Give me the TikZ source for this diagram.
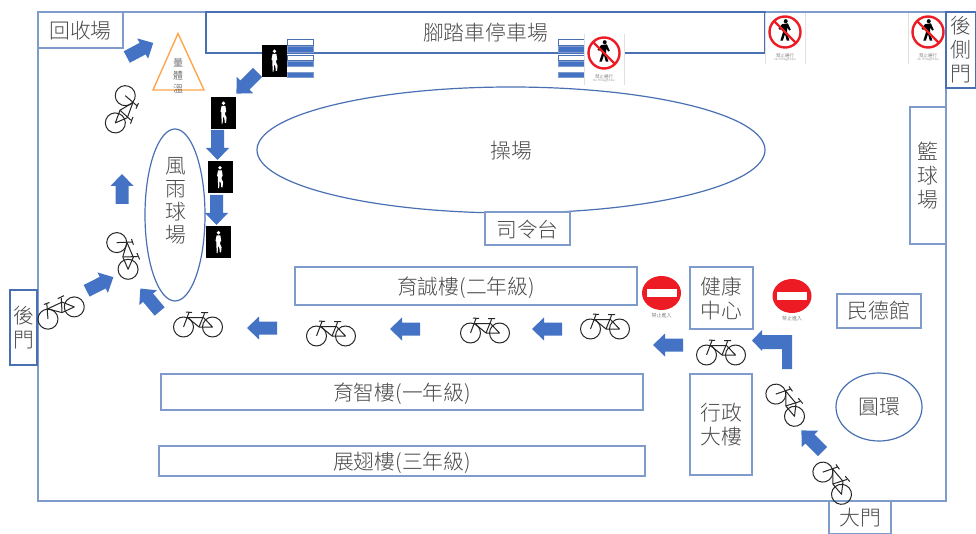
\documentclass[tikz,border=0pt]{standalone}
\usepackage{fontspec}
\setmainfont{Noto Sans CJK TC Light}[BoldFont={Noto Sans CJK TC}]
\usetikzlibrary{shapes.geometric}
\definecolor{frameblue}{HTML}{7E9BCB}
\definecolor{darkblue}{HTML}{4A70B4}
\definecolor{arrowblue}{HTML}{4472C4}
\definecolor{labelgray}{HTML}{4A4A4A}
\definecolor{signred}{HTML}{ED1C24}
\newcommand{\lowertext}[2]{\raisebox{-#1}[\height][\depth]{#2}}
\tikzset{
  box/.style={draw=frameblue,line width=1.5pt,fill=white,inner sep=0pt,text=labelgray,font=\fontsize{20.8}{24}\selectfont,align=center},
  oval/.style={ellipse,draw=darkblue,line width=1.2pt,fill=white,inner sep=0pt,text=labelgray,font=\fontsize{20.8}{24}\selectfont,align=center},
  lbl/.style={text=labelgray,inner sep=0pt,font=\fontsize{20.8}{24}\selectfont,align=center},
  stripeopen/.style={draw=darkblue,line width=1pt,fill=white},
  stripefull/.style={draw=frameblue,line width=.6pt,fill=arrowblue},
  pics/barrow/.style={code={
    \fill[arrowblue] (-15,-6.5) -- (3,-6.5) -- (3,-11.5) -- (15,0) -- (3,11.5) -- (3,6.5) -- (-15,6.5) -- cycle;
  }},
  pics/bike/.style={code={
    \begin{scope}[draw=black!85,line width=1pt,line join=round]
      \draw (-14.5,5) circle (10);
      \draw (14.5,5) circle (10);
      \draw (-14.5,5) -- (-9,-9.5) (-12,-10) -- (-6,-9.5);
      \draw (-10.5,-4.5) -- (5.5,-4.5) -- (14.5,5) -- (1,5) -- cycle;
      \draw (1,5) -- (6.5,-8.5) (3,-9.5) -- (10,-9.5);
    \end{scope}
  }},
  pics/walker/.style={code={
    \fill[black] (-12.5,-16) rectangle (12.5,16);
    \begin{scope}[scale=.85,shift={(0,-.5)}]
    \fill[white] (0,-11) circle (2.1);
    \fill[white] (-2.2,-8) -- (2.2,-8) -- (3.2,-1) -- (2.2,-.8) -- (1.8,2) -- (3.6,6) -- (3,12) -- (1.5,12) -- (1,7) -- (-.5,4) -- (-1,13) -- (-2.3,13) -- (-2.4,2) -- (-2.7,-1) -- (-3.6,-1) -- cycle;
    \end{scope}
  }},
  pics/noped/.style={code={
    \fill[white] (-20,-25.5) rectangle (20,25);
    \draw[black!12,line width=.5pt] (-20,-25.5) -- (-20,25) (20,-25.5) -- (20,25);
    \begin{scope}[shift={(0,-7)},scale=.72]
    \fill[black] (1,-15) circle (2.8);
    \fill[black] (-4,-11) -- (4,-12) -- (8,-3) -- (6,-2) -- (3,-6) -- (3,1) -- (6,12) -- (2.5,12) -- (0,3) -- (-3,12) -- (-6.5,12) -- (-3,1) -- (-3,-6) -- (-7,-3) -- (-9,-5) -- cycle;
    \end{scope}
    \draw[signred,line width=2.4pt] (0,-7) circle (15.5);
    \draw[signred,line width=2.4pt] (-11,-18) -- (11,4);
    \node[inner sep=0pt,text=black!70,font=\fontsize{4.5}{5}\selectfont] at (0,17) {禁止通行};
    \node[inner sep=0pt,text=black!60,font=\fontsize{2.8}{3}\selectfont] at (0,21) {No Through Fare};
  }},
  pics/noentry/.style={code={
    \fill[signred] (0,0) ellipse (19.5 and 17);
    \fill[white] (-15,-4) rectangle (15,4);
    \node[inner sep=0pt,text=black!70,font=\fontsize{5}{6}\selectfont] at (0,23) {禁止進入};
  }}
}
\begin{document}
\begin{tikzpicture}[x=1pt,y=-1pt]
\useasboundingbox (0,0) rectangle (976,534);
\fill[white] (0,0) rectangle (976,534);
% site frame
\node[draw=frameblue,line width=1.5pt,minimum width=908pt,minimum height=489pt,inner sep=0pt,outer sep=0pt,anchor=north west] (site) at (38,12) {};
% buildings
\node[box,minimum width=85pt,minimum height=36pt] (recycle) at (80.5,30) {\lowertext{1pt}{回收場}};
\node[box,draw=darkblue,minimum width=559pt,minimum height=41pt] (bikepark) at (485.5,32.5) {腳踏車停車場};
\node[oval,minimum width=60pt,minimum height=172pt] (rainfield) at (175,215) {};
\node[lbl] (rainlabel) at (176,201) {風\\[-1pt]雨\\[-1pt]球\\[-1pt]場};
\node[oval,minimum width=508pt,minimum height=126pt] (field) at (511,150) {\lowertext{1pt}{操場}};
\node[box,minimum width=85pt,minimum height=33pt] (podium) at (527.5,228.5) {\lowertext{1pt}{司令台}};
\node[box,minimum width=36pt,minimum height=137pt] (court) at (928,175.5) {籃\\球\\場};
\node[box,draw=darkblue,minimum width=27pt,minimum height=75pt] (backgate) at (23.5,327.5) {後\\門};
\node[box,minimum width=342pt,minimum height=38pt] (grade2) at (466,286) {\lowertext{2pt}{育誠樓(二年級)}};
\node[box,minimum width=63pt,minimum height=62pt] (health) at (721.5,298) {健康\\中心};
\node[box,minimum width=84pt,minimum height=34pt] (minde) at (879,311) {民德館};
\node[box,minimum width=482pt,minimum height=36pt] (grade1) at (402,392) {\lowertext{2pt}{育智樓(一年級)}};
\node[box,minimum width=62pt,minimum height=101pt] (admin) at (721,424.5) {行政\\大樓};
\node[box,minimum width=486pt,minimum height=30pt] (grade3) at (402,461) {\lowertext{2pt}{展翅樓(三年級)}};
\node[oval,minimum width=86pt,minimum height=68pt] (circle) at (879,407) {圓環};
\node[box,minimum width=62pt,minimum height=33pt] (maingate) at (860,517.5) {大門};
% temperature triangle
\draw[draw=orange!70!white,line width=1.4pt,fill=white,line join=miter] (178,33.5) -- (204,90) -- (153,90) -- cycle;
\node[text=labelgray,inner sep=0pt,align=center,font=\fontsize{10}{13}\selectfont] (templabel) at (178,76) {量\\體\\溫};
% crossings
\foreach \x in {287,558}{
  \draw[stripeopen] (\x,39.5) rectangle ++(26,6);
  \draw[stripefull] (\x,46) rectangle ++(26,6.5);
  \draw[stripeopen] (\x,55.5) rectangle ++(26,5);
  \draw[stripefull] (\x,61) rectangle ++(26,5.5);
  \draw[stripefull] (\x,72) rectangle ++(26,5.5);
}
% signs
\pic at (604,60) {noped};
\pic at (785,39) {noped};
\pic at (928,39) {noped};
\pic at (661.5,293) {noentry};
\pic at (792,296) {noentry};
\node[box,draw=darkblue,minimum width=30pt,minimum height=76pt] (sidegate) at (961,50) {後\\側\\門};
% walkers
\pic at (274.5,61) {walker};
\pic at (223.5,113) {walker};
\pic at (220,177.5) {walker};
\pic at (218.5,242.5) {walker};
% block arrows
\pic[rotate=28] at (140,50) {barrow};
\pic[rotate=225] at (247,83) {barrow};
\pic[rotate=270] at (217.5,145) {barrow};
\pic[rotate=270] at (216.5,210) {barrow};
\pic[rotate=90] at (122,189) {barrow};
\pic[rotate=27] at (100,284) {barrow};
\pic[rotate=130] at (150,300) {barrow};
\pic[rotate=180] at (262,328) {barrow};
\pic[rotate=180] at (405,329) {barrow};
\pic[rotate=180] at (547,329) {barrow};
\pic[rotate=180] at (668,345) {barrow};
\pic[rotate=135] at (812,441) {barrow};
\fill[arrowblue] (752,340.5) -- (762,330) -- (762,335) -- (792,335) -- (792,369) -- (782,369) -- (782,349) -- (762,349) -- (762,351) -- cycle;
% bicycles
\pic[rotate=-110] at (125,111) {bike};
\pic[rotate=-67] at (127,254) {bike};
\pic[rotate=25] at (59,308.5) {bike};
\pic at (198,322) {bike};
\pic at (331,331) {bike};
\pic at (485,328) {bike};
\pic at (605,324) {bike};
\pic at (721,350) {bike};
\pic[rotate=-50] at (789,402) {bike};
\pic[rotate=-50] at (836,480) {bike};
\end{tikzpicture}
\end{document}
